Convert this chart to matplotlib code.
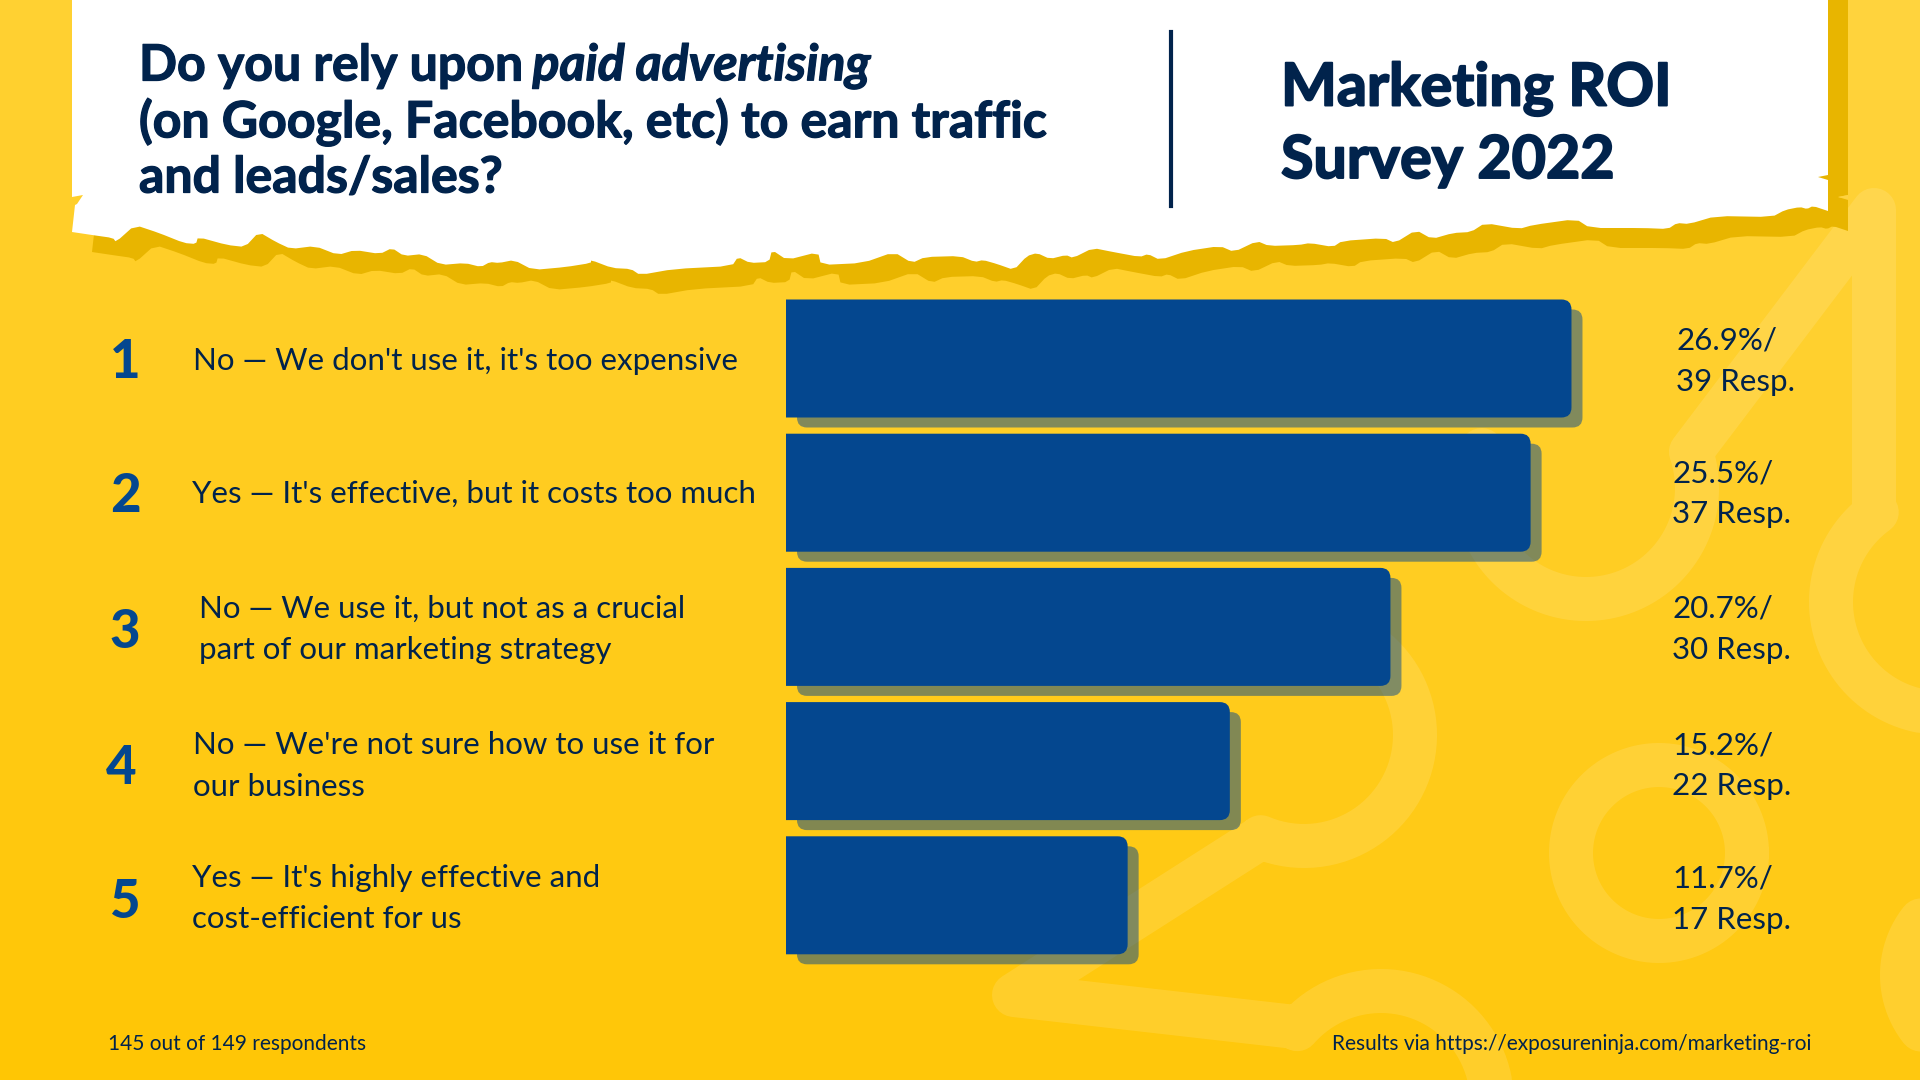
import numpy as np
import matplotlib
matplotlib.use('Agg')
import matplotlib.pyplot as plt
import matplotlib.patheffects as pe
from matplotlib.patches import FancyBboxPatch, PathPatch, Polygon
from matplotlib.path import Path

# --- data ---
ranks = [1, 2, 3, 4, 5]
answers = [
    "No — We don't use it, it's too expensive",
    "Yes — It's effective, but it costs too much",
    "No — We use it, but not as a crucial\npart of our marketing strategy",
    "No — We're not sure how to use it for\nour business",
    "Yes — It's highly effective and\ncost-efficient for us",
]
percents = [26.9, 25.5, 20.7, 15.2, 11.7]
responses = [39, 37, 30, 22, 17]

NAVY = '#01234c'
BLUE = '#04478f'
GOLD = '#e8b500'
FONT = 'Lato'

fig = plt.figure(figsize=(19.2, 10.8), dpi=100)

# background, in pixel coordinates
bg = fig.add_axes([0, 0, 1, 1])
bg.set_xlim(0, 1920)
bg.set_ylim(1080, 0)
bg.axis('off')

yy, xx = np.mgrid[0:1:108j, 0:1:192j]
t = np.clip((1 - yy) * 0.8 + xx * 0.2, 0, 1)[..., None]
low = np.array([255, 198, 4]) / 255
high = np.array([255, 212, 62]) / 255
bg.imshow(low + (high - low) * t, extent=(0, 1920, 1080, 0), aspect='auto', zorder=0)


def arc(cx, cy, r, a0, a1):
    a = np.radians(np.linspace(a0, a1, 120))
    return np.column_stack([cx + r * np.cos(a), cy + r * np.sin(a)])


def soften(pts):
    # one pass of corner cutting so the torn edge is not too spiky
    a, b = pts[:-1], pts[1:]
    mid = np.empty((len(a) * 2, 2))
    mid[0::2] = 0.8 * a + 0.2 * b
    mid[1::2] = 0.2 * a + 0.8 * b
    return np.vstack([pts[:1], mid, pts[-1:]])


# faint chain shapes behind everything
chain = [
    np.vstack([arc(1381, 1102, 111, 60, -139), [[1295, 1027], [1014, 995], [1260, 838]],
               arc(1304, 735, 111, 113, -90)]),
    np.vstack([arc(1586, 488, 111, 200, -19), [[1874, 210], [1874, 510]],
               arc(1942, 602, 111, 234, 75)]),
    arc(1659, 853, 88, 0, 360),
    arc(1990, 975, 88, 0, 360),
]
deco = Path.make_compound_path(*[Path(c) for c in chain])
bg.add_patch(PathPatch(deco, fill=False, ec='white', alpha=0.12, lw=44 * 0.72,
                       capstyle='round', joinstyle='round', zorder=1))

# torn white header and its gold shadow
edge = np.array([
    (72, 232), (92, 235), (113, 238), (116, 242), (135, 225), (159, 233), (184, 243), (196, 244),
    (198, 237), (227, 245), (245, 247), (259, 232), (276, 242), (291, 249), (315, 246), (338, 255),
    (355, 250), (380, 254), (392, 248), (404, 256), (423, 254), (441, 265), (465, 263), (481, 267),
    (490, 262), (499, 263), (514, 260), (533, 270), (566, 267), (591, 263), (591, 260), (612, 268),
    (631, 269), (640, 275), (674, 269), (732, 266), (738, 257), (750, 263), (769, 262), (772, 250),
    (787, 260), (818, 252), (821, 265), (863, 263), (894, 252), (912, 263), (925, 257), (960, 256),
    (975, 262), (983, 260), (997, 264), (1014, 270), (1027, 256), (1037, 253), (1050, 259),
    (1066, 255), (1073, 258), (1093, 248), (1113, 252), (1140, 257), (1148, 254), (1160, 260),
    (1187, 251), (1220, 246), (1234, 252), (1257, 241), (1269, 246), (1299, 245), (1310, 243),
    (1333, 247), (1342, 241), (1384, 238), (1395, 243), (1416, 230), (1432, 239), (1453, 233),
    (1471, 232), (1485, 223), (1519, 229), (1533, 225), (1576, 219), (1590, 228), (1643, 228),
    (1668, 229), (1677, 223), (1689, 224), (1716, 216), (1772, 217), (1785, 210), (1800, 207),
    (1807, 209), (1813, 206), (1828, 211),
], dtype=float)
edge = soften(edge)
header = np.vstack([[[72, 0], [72, 197], [83, 195], [77, 204], [75, 205]], edge,
                    [[1828, 180], [1818, 177], [1828, 175], [1828, 0]]])
bg.add_patch(Polygon(header + [20, 20], fc=GOLD, ec='none', zorder=2))
bg.add_patch(Polygon([[92, 0], [1848, 0], [1848, 100], [92, 100]], fc=GOLD, ec='none', zorder=2))
bg.add_patch(Polygon([[1838, 197], [1848, 195], [1848, 199]], fc='#ffd23f', ec='none', zorder=2.5))
bg.add_patch(Polygon(header, fc='white', ec='none', zorder=3))

# header texts, with a thin outline since the original is heavier than Lato Bold
kw = dict(color=NAVY, va='center', zorder=4, family=FONT, fontweight='bold')
heavy = [pe.withStroke(linewidth=0.9, foreground=NAVY)]
heavier = [pe.withStroke(linewidth=1.4, foreground=NAVY)]
t1 = bg.text(139, 66, "Do you rely upon ", fontsize=36, path_effects=heavy, **kw)
fig.canvas.draw()
box = t1.get_window_extent().transformed(bg.transData.inverted())
bg.text(box.x1 - 2, 66, "paid advertising", style='italic', fontsize=36, path_effects=heavy, **kw)
bg.text(139, 122, "(on Google, Facebook, etc) to earn traffic", fontsize=36, path_effects=heavy, **kw)
bg.text(139, 178, "and leads/sales?", fontsize=36, path_effects=heavy, **kw)
bg.plot([1171, 1171], [32, 206], color=NAVY, lw=3, zorder=4)
bg.text(1281, 89, "Marketing ROI", fontsize=42.6, path_effects=heavier, **kw)
bg.text(1281, 161, "Survey 2022", fontsize=42.6, path_effects=heavier, **kw)

# row labels
row_y = [361, 494, 629, 766, 899]
rank_y = [363, 496, 632, 769, 902]
rank_x = [125, 125, 125, 121, 125]
label_x = [193, 192, 199, 193, 192]
value_x = [1676, 1672, 1672, 1672, 1672]
for i in range(len(ranks)):
    bg.text(rank_x[i], rank_y[i], str(ranks[i]), family=FONT, fontweight='black', color=BLUE,
            fontsize=38, ha='center', va='center', zorder=4)
    lines = answers[i].split('\n')
    for j, line in enumerate(lines):
        y = row_y[i] + (j - (len(lines) - 1) / 2) * 41
        bg.text(label_x[i], y, line, family=FONT, color=NAVY, fontsize=22.5, va='center', zorder=4)
    val = [f"{percents[i]}%/", f"{responses[i]} Resp."]
    for j, line in enumerate(val):
        bg.text(value_x[i], row_y[i] + (j - 0.5) * 41, line, family=FONT, color=NAVY,
                fontsize=22.5, va='center', zorder=4)

bg.text(108, 1044, "145 out of 149 respondents", family=FONT, color=NAVY, fontsize=15, va='center', zorder=4)
bg.text(1811, 1044, "Results via https://exposureninja.com/marketing-roi", family=FONT, color=NAVY,
        fontsize=15.05, va='center', ha='right', zorder=4)

# bars: 29.2 px per percent, 134.2 px per row
PX_PER_PCT = 29.2
PX_PER_ROW = 134.2
ax = fig.add_axes([786 / 1920, 1 - 1001 / 1080, 1134 / 1920, 710 / 1080])
ax.set_xlim(0, 1134 / PX_PER_PCT)
ax.set_ylim(4 + (1001 - 358.5 - 4 * PX_PER_ROW) / PX_PER_ROW, -(358.5 - 291) / PX_PER_ROW)
ax.axis('off')
ax.patch.set_alpha(0)

dx = 11 / PX_PER_PCT
dy = 10 / PX_PER_ROW
bar_h = 118 / PX_PER_ROW
round_opts = dict(boxstyle=f"round,pad=0,rounding_size={10 / PX_PER_PCT}",
                  mutation_aspect=PX_PER_PCT / PX_PER_ROW, lw=0)
for i, p in enumerate(percents):
    ax.add_patch(FancyBboxPatch((dx, i - bar_h / 2 + dy), p, bar_h, fc=BLUE, alpha=0.5, **round_opts))
    ax.add_patch(FancyBboxPatch((-1, i - bar_h / 2), p + 1, bar_h, fc=BLUE, **round_opts))

fig.savefig('out.png', dpi=100)
